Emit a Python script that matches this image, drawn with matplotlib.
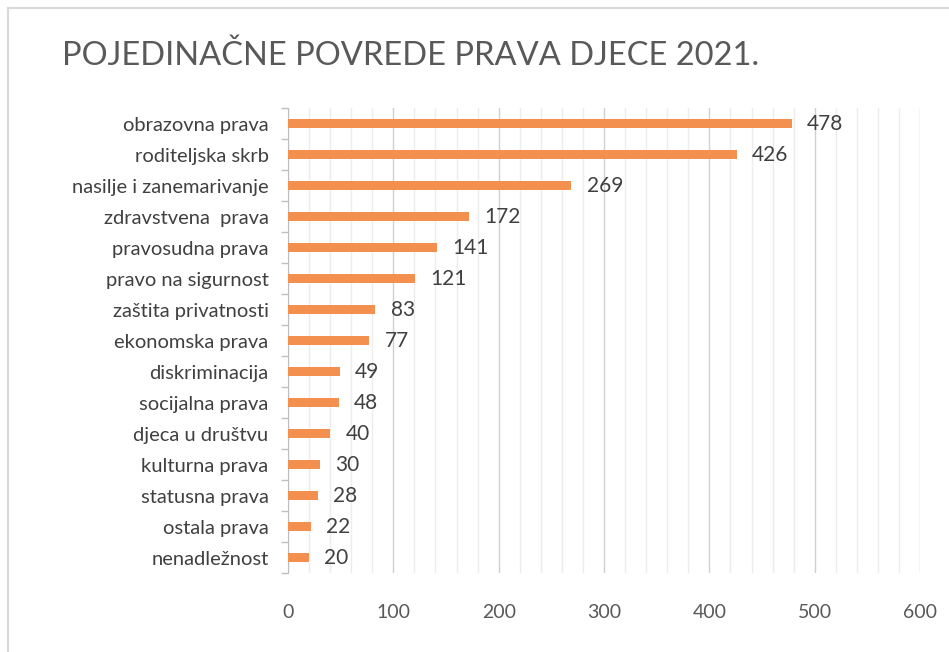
import matplotlib.pyplot as plt
from matplotlib.ticker import MultipleLocator
from matplotlib.lines import Line2D

categories = ["obrazovna prava", "roditeljska skrb", "nasilje i zanemarivanje",
              "zdravstvena  prava", "pravosudna prava", "pravo na sigurnost",
              "zaštita privatnosti", "ekonomska prava", "diskriminacija",
              "socijalna prava", "djeca u društvu", "kulturna prava",
              "statusna prava", "ostala prava", "nenadležnost"]
values = [478, 426, 269, 172, 141, 121, 83, 77, 49, 48, 40, 30, 28, 22, 20]
x_ticks = [0, 100, 200, 300, 400, 500, 600]

plt.rcParams['font.family'] = ['Lato', 'DejaVu Sans']

fig = plt.figure(figsize=(9.49, 6.52), dpi=100)
ax = fig.add_axes([0.3035, 0.121, 0.666, 0.713])

pos = list(range(len(categories)))
ax.barh(pos, values, height=0.3, color='#F4904F', zorder=3)
for p, v in zip(pos, values):
    ax.annotate(str(v), (v, p), xytext=(11, 0), textcoords='offset points',
                va='center', ha='left', fontsize=15, color='#404040')

ax.set_ylim(len(categories) - 0.5, -0.5)
ax.set_xlim(0, 600)
ax.set_yticks(pos)
ax.set_yticklabels(categories, fontsize=14.5, color='#404040')
ax.set_yticks([p + 0.5 for p in range(-1, len(categories))], minor=True)
ax.tick_params(axis='y', which='major', length=0, pad=14)
ax.tick_params(axis='y', which='minor', length=5, color='#BFBFBF', width=1)

ax.set_xticks(x_ticks)
ax.xaxis.set_minor_locator(MultipleLocator(20))
ax.tick_params(axis='x', which='both', length=0, labelsize=14, labelcolor='#595959', pad=22)
ax.grid(axis='x', which='major', color='#D0D0D0', lw=1, zorder=0)
ax.grid(axis='x', which='minor', color='#EDEDED', lw=1, zorder=0)

for s in ['top', 'right', 'bottom']:
    ax.spines[s].set_visible(False)
ax.spines['left'].set_color('#BFBFBF')

fig.text(0.065, 0.915, "POJEDINAČNE POVREDE PRAVA DJECE 2021.", fontsize=23.5,
         color='#595959', va='center', ha='left')

# chart frame
fig.add_artist(Line2D([0.008, 1.0], [0.988, 0.988], color='#D9D9D9', lw=1.5))
fig.add_artist(Line2D([0.008, 0.008], [0.0, 0.988], color='#D9D9D9', lw=1.5))

fig.savefig('out.png', dpi=100)
